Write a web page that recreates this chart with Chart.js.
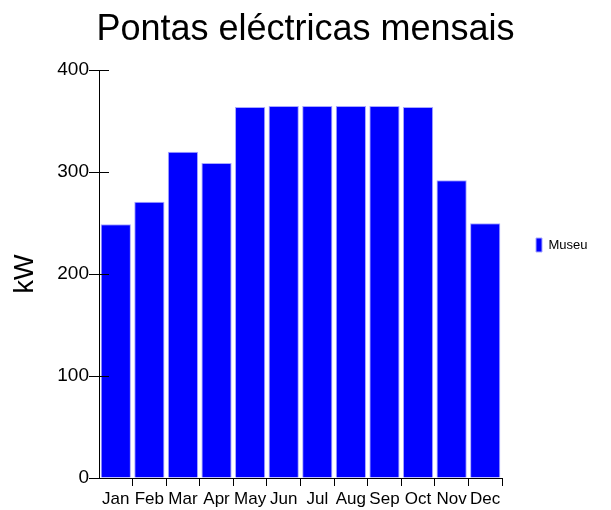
<!DOCTYPE html>
<html>
<head>
<meta charset="utf-8">
<script src="https://cdn.jsdelivr.net/npm/chart.js@4"></script>
<style>
  html, body { margin: 0; padding: 0; background: #fff; }
  #wrap { width: 611px; height: 510px; }
</style>
</head>
<body>
<div id="wrap"><canvas id="chart" width="611" height="510"></canvas></div>
<script>
// dados
const months = ['Jan', 'Feb', 'Mar', 'Apr', 'May', 'Jun', 'Jul', 'Aug', 'Sep', 'Oct', 'Nov', 'Dec'];
const museu = [249, 271, 320, 309, 364, 365, 365, 365, 365, 364, 292, 250];
const yTicks = [0, 100, 200, 300, 400];

const FONT = "'Liberation Sans', Arial, sans-serif";

// pequenos traços do eixo Y para dentro da área do gráfico
const innerTicks = {
    id: 'innerTicks',
    afterDatasetsDraw(chart) {
        const y = chart.scales.y;
        const ctx = chart.ctx;
        ctx.save();
        ctx.strokeStyle = '#000';
        ctx.lineWidth = 1;
        yTicks.forEach(function(v) {
            const py = Math.round(y.getPixelForValue(v)) + 0.5;
            ctx.beginPath();
            ctx.moveTo(y.right, py);
            ctx.lineTo(y.right + 10, py);
            ctx.stroke();
        });
        ctx.restore();
    }
};

// legenda com largura fixa à direita, um pouco acima do centro
const legendBox = {
    id: 'legendBox',
    afterInit(chart) {
        const lg = chart.legend;
        const fit = lg.fit;
        lg.fit = function() {
            fit.call(this);
            this.width = 109;
        };
    },
    afterLayout(chart) {
        chart.legend.bottom -= 20;
        chart.legend.height -= 20;
    }
};

new Chart(document.getElementById('chart'), {
    type: 'bar',
    data: {
        labels: months,
        datasets: [{
            label: 'Museu',
            data: museu,
            backgroundColor: '#0000ff',
            borderColor: '#a8a8ff',
            borderWidth: 1,
            barPercentage: 0.9,
            categoryPercentage: 1
        }]
    },
    options: {
        responsive: false,
        animation: false,
        layout: { padding: 0 },
        plugins: {
            title: {
                display: true,
                text: 'Pontas eléctricas mensais',
                color: '#000',
                font: { family: FONT, size: 36, weight: 'normal' },
                padding: { top: 8, bottom: 19 }
            },
            legend: {
                position: 'right',
                labels: {
                    boxWidth: 6,
                    boxHeight: 14,
                    padding: 34,
                    color: '#000',
                    font: { family: FONT, size: 13 }
                }
            },
            tooltip: { enabled: false }
        },
        scales: {
            x: {
                offset: true,
                grid: {
                    display: true,
                    drawOnChartArea: false,
                    offset: true,
                    tickLength: 8,
                    color: function(c) { return c.index === 0 ? 'rgba(0,0,0,0)' : '#000'; }
                },
                border: { display: true, color: '#000' },
                ticks: {
                    color: '#000',
                    autoSkip: false,
                    maxRotation: 0,
                    padding: 3,
                    font: { family: FONT, size: 17 }
                },
                afterFit: function(s) { s.height = 32; }
            },
            y: {
                min: 0,
                max: 400,
                afterBuildTicks: function(s) { s.ticks = yTicks.map(function(v) { return { value: v }; }); },
                grid: {
                    display: true,
                    drawOnChartArea: false,
                    tickLength: 10,
                    color: '#000'
                },
                border: { display: true, color: '#000' },
                ticks: {
                    color: '#000',
                    padding: 0,
                    font: { family: FONT, size: 19 }
                },
                title: {
                    display: true,
                    text: 'kW',
                    color: '#000',
                    font: { family: FONT, size: 27 },
                    padding: { top: 9, bottom: 0 }
                },
                afterFit: function(s) { s.width = 99; }
            }
        }
    },
    plugins: [innerTicks, legendBox]
});
</script>
</body>
</html>
